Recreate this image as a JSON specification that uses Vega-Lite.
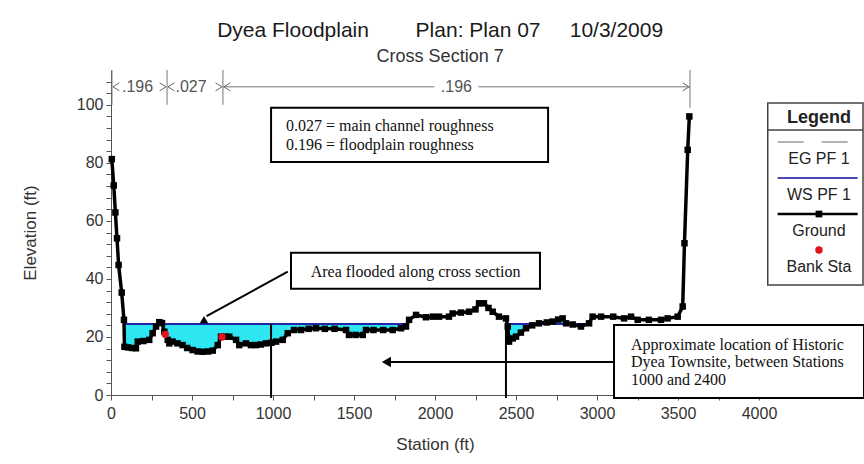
{
  "$schema": "https://vega.github.io/schema/vega-lite/v6.json",
  "autosize": {"type": "pad"},
  "padding": {"left": 21, "top": 19, "right": 1, "bottom": 1},
  "background": "white",
  "title": {
    "text": "Dyea Floodplain\u00a0\u00a0\u00a0\u00a0\u00a0\u00a0\u00a0\u00a0Plan: Plan 07\u00a0\u00a0\u00a0\u00a0\u00a010/3/2009",
    "subtitle": "Cross Section 7",
    "anchor": "middle",
    "dx": -3,
    "offset": 4,
    "subtitlePadding": 7,
    "font": "Liberation Sans",
    "fontSize": 21,
    "fontWeight": "normal",
    "color": "#1a1a1a",
    "subtitleFont": "Liberation Sans",
    "subtitleFontSize": 18,
    "subtitleColor": "#333333"
  },
  "config": {
    "view": {"stroke": null},
    "text": {"font": "Liberation Sans"}
  },
  "bounds": "flush",
  "spacing": 7,
  "datasets": {
    "ground": [
      {"station": 5, "elev": 81.3}, {"station": 17, "elev": 72.2}, {"station": 27, "elev": 62.9},
      {"station": 37, "elev": 54.0}, {"station": 47, "elev": 44.8}, {"station": 66, "elev": 35.3},
      {"station": 80, "elev": 25.9}, {"station": 83, "elev": 16.6}, {"station": 105, "elev": 16.4},
      {"station": 130, "elev": 16.2}, {"station": 154, "elev": 16.1}, {"station": 165, "elev": 18.4},
      {"station": 200, "elev": 18.6}, {"station": 236, "elev": 19.0}, {"station": 257, "elev": 21.3},
      {"station": 278, "elev": 23.6}, {"station": 298, "elev": 25.1}, {"station": 315, "elev": 24.8},
      {"station": 329, "elev": 21.8}, {"station": 350, "elev": 19.0}, {"station": 360, "elev": 17.8},
      {"station": 380, "elev": 18.4}, {"station": 410, "elev": 17.8}, {"station": 442, "elev": 17.2},
      {"station": 470, "elev": 16.2}, {"station": 504, "elev": 15.5}, {"station": 535, "elev": 15.0},
      {"station": 566, "elev": 14.9}, {"station": 600, "elev": 15.0}, {"station": 628, "elev": 15.3},
      {"station": 659, "elev": 17.2}, {"station": 679, "elev": 20.1}, {"station": 705, "elev": 20.1},
      {"station": 730, "elev": 20.1}, {"station": 772, "elev": 19.0}, {"station": 792, "elev": 17.2},
      {"station": 833, "elev": 17.8}, {"station": 864, "elev": 17.2}, {"station": 895, "elev": 17.2},
      {"station": 925, "elev": 17.4}, {"station": 957, "elev": 17.8}, {"station": 990, "elev": 18.0},
      {"station": 1019, "elev": 18.4}, {"station": 1060, "elev": 19.0}, {"station": 1091, "elev": 21.3},
      {"station": 1130, "elev": 22.4}, {"station": 1173, "elev": 22.4}, {"station": 1220, "elev": 22.8},
      {"station": 1265, "elev": 23.0}, {"station": 1320, "elev": 22.8}, {"station": 1380, "elev": 22.8},
      {"station": 1451, "elev": 22.4}, {"station": 1469, "elev": 20.7}, {"station": 1510, "elev": 20.7},
      {"station": 1554, "elev": 20.7}, {"station": 1574, "elev": 22.4}, {"station": 1620, "elev": 22.4},
      {"station": 1680, "elev": 22.4}, {"station": 1739, "elev": 22.4}, {"station": 1790, "elev": 23.0},
      {"station": 1821, "elev": 23.6}, {"station": 1840, "elev": 25.9}, {"station": 1883, "elev": 27.6},
      {"station": 1944, "elev": 26.8}, {"station": 1986, "elev": 27.0}, {"station": 2025, "elev": 27.0},
      {"station": 2086, "elev": 27.0}, {"station": 2109, "elev": 28.1}, {"station": 2160, "elev": 28.4},
      {"station": 2210, "elev": 28.7}, {"station": 2250, "elev": 29.5}, {"station": 2272, "elev": 31.6},
      {"station": 2302, "elev": 31.6}, {"station": 2330, "elev": 30.0}, {"station": 2356, "elev": 28.7},
      {"station": 2395, "elev": 27.0}, {"station": 2438, "elev": 26.4}, {"station": 2449, "elev": 23.6},
      {"station": 2457, "elev": 18.4}, {"station": 2480, "elev": 19.5}, {"station": 2500, "elev": 20.1},
      {"station": 2530, "elev": 21.5}, {"station": 2562, "elev": 23.0}, {"station": 2600, "elev": 24.0},
      {"station": 2642, "elev": 24.7}, {"station": 2690, "elev": 25.0}, {"station": 2726, "elev": 25.3},
      {"station": 2760, "elev": 26.0}, {"station": 2788, "elev": 26.4}, {"station": 2809, "elev": 24.7},
      {"station": 2850, "elev": 24.3}, {"station": 2901, "elev": 23.6}, {"station": 2951, "elev": 24.7},
      {"station": 2973, "elev": 27.0}, {"station": 3025, "elev": 27.0}, {"station": 3100, "elev": 27.0},
      {"station": 3167, "elev": 26.4}, {"station": 3210, "elev": 27.0}, {"station": 3251, "elev": 25.9},
      {"station": 3320, "elev": 25.9}, {"station": 3395, "elev": 25.9}, {"station": 3436, "elev": 26.4},
      {"station": 3498, "elev": 27.0}, {"station": 3529, "elev": 30.5}, {"station": 3540, "elev": 52.3},
      {"station": 3560, "elev": 84.5}, {"station": 3570, "elev": 96.0}
    ],
    "bank": [{"station": 335, "elev": 20.9}, {"station": 685, "elev": 20.0}],
    "ws": [
      {"seg": "a", "station": 80, "elev": 24.5}, {"seg": "a", "station": 1830, "elev": 24.5},
      {"seg": "b", "station": 2445, "elev": 24.5}, {"seg": "b", "station": 2960, "elev": 24.5}
    ],
    "vlines": [
      {"station": 988, "elev": 24.5, "elev2": -1},
      {"station": 2438, "elev": 24.5, "elev2": -1}
    ],
    "dividers": [
      {"station": 6, "elev": 100, "elev2": 112}, {"station": 346, "elev": 100, "elev2": 112},
      {"station": 691, "elev": 100, "elev2": 112}, {"station": 3574, "elev": 99, "elev2": 112}
    ],
    "nlines": [
      {"station": 691, "station2": 1996, "elev": 106.2},
      {"station": 2268, "station2": 3574, "elev": 106.2}
    ],
    "chevL": [{"station": 12, "elev": 106.2}, {"station": 352, "elev": 106.2}, {"station": 697, "elev": 106.2}],
    "chevR": [{"station": 340, "elev": 106.2}, {"station": 685, "elev": 106.2}, {"station": 3568, "elev": 106.2}],
    "nvals": [
      {"label": ".196", "station": 164, "elev": 106.2},
      {"label": ".027", "station": 494, "elev": 106.2},
      {"label": ".196", "station": 2132, "elev": 106.2}
    ],
    "arrows": [
      {"station": 1091, "elev": 42.5, "station2": 590, "elev2": 27.2},
      {"station": 1690, "elev": 11.4, "station2": 3105, "elev2": 11.4}
    ],
    "headUp": [{"station": 574, "elev": 26.0}],
    "headLeft": [{"station": 1700, "elev": 11.4}],
    "boxes": [
      {"station": 988, "station2": 2698, "elev": 99.0, "elev2": 80.3},
      {"station": 1111, "station2": 2648, "elev": 49.0, "elev2": 36.6},
      {"station": 3105, "station2": 4648, "elev": 24.1, "elev2": -1.0}
    ],
    "notesLeft": [
      {"text": "0.027 = main channel roughness", "station": 1080, "elev": 92.8},
      {"text": "0.196 = floodplain roughness", "station": 1080, "elev": 86.2},
      {"text": "Approximate location of Historic", "station": 3210, "elev": 17.2},
      {"text": "Dyea Townsite, between Stations", "station": 3210, "elev": 11.4},
      {"text": "1000 and 2400", "station": 3210, "elev": 5.2}
    ],
    "notesCenter": [
      {"text": "Area flooded along cross section", "station": 1880, "elev": 42.4}
    ],
    "legend": [
      {"item": "EG PF 1", "k": 1}, {"item": "WS PF 1", "k": 2},
      {"item": "Ground", "k": 3}, {"item": "Bank Sta", "k": 4}
    ]
  },
  "hconcat": [
    {
      "width": 648,
      "height": 325,
      "encoding": {
        "x": {
          "field": "station", "type": "quantitative",
          "scale": {"domain": [0, 4000], "nice": false, "zero": false},
          "axis": {
            "title": "Station (ft)",
            "values": [0, 250, 500, 750, 1000, 1250, 1500, 1750, 2000, 2250, 2500, 2750, 3000, 3250, 3500, 3750, 4000],
            "labelExpr": "datum.value % 500 === 0 ? datum.label : ''",
            "format": "d",
            "grid": false, "tickSize": 5, "labelPadding": 5,
            "labelFont": "Liberation Sans", "labelFontSize": 16, "labelColor": "#333333",
            "labelFlush": false, "labelOverlap": false,
            "titleFont": "Liberation Sans", "titleFontSize": 17, "titleFontWeight": "normal",
            "titleColor": "#333333", "titlePadding": 15,
            "domainColor": "#555555", "tickColor": "#555555"
          }
        },
        "y": {
          "field": "elev", "type": "quantitative",
          "scale": {"domain": [0, 112], "nice": false, "zero": false},
          "axis": {
            "title": "Elevation (ft)",
            "values": [0, 4, 8, 12, 16, 20, 24, 28, 32, 36, 40, 44, 48, 52, 56, 60, 64, 68, 72, 76, 80, 84, 88, 92, 96, 100, 104, 108],
            "labelExpr": "datum.value % 20 === 0 ? datum.label : ''",
            "format": "d",
            "grid": false, "tickSize": 5, "labelPadding": 3,
            "labelFont": "Liberation Sans", "labelFontSize": 16, "labelColor": "#333333",
            "labelFlush": false, "labelOverlap": false,
            "titleFont": "Liberation Sans", "titleFontSize": 17, "titleFontWeight": "normal",
            "titleColor": "#333333", "titlePadding": 37,
            "domainColor": "#555555", "tickColor": "#555555"
          }
        }
      },
      "layer": [
        {"data": {"name": "ground"}, "transform": [{"filter": {"field": "station", "range": [83, 1821]}}],
         "mark": {"type": "area", "color": "#2ee6f2", "opacity": 1}, "encoding": {"y2": {"datum": 24.5}}},
        {"data": {"name": "ground"}, "transform": [{"filter": {"field": "station", "range": [2449, 2951]}}],
         "mark": {"type": "area", "color": "#2ee6f2", "opacity": 1}, "encoding": {"y2": {"datum": 24.5}}},
        {"data": {"name": "ws"}, "mark": {"type": "line", "color": "#2525a8", "strokeWidth": 2},
         "encoding": {"detail": {"field": "seg"}}},
        {"data": {"name": "vlines"}, "mark": {"type": "rule", "color": "#000000", "strokeWidth": 2},
         "encoding": {"y2": {"field": "elev2"}}},
        {"data": {"name": "ground"}, "mark": {"type": "line", "color": "#000000", "strokeWidth": 3.5}},
        {"data": {"name": "ground"}, "mark": {"type": "point", "shape": "square", "filled": true, "color": "#000000", "size": 42, "opacity": 1}},
        {"data": {"name": "bank"}, "mark": {"type": "point", "shape": "circle", "filled": true, "color": "#e3121b", "size": 55, "opacity": 1}},
        {"data": {"name": "dividers"}, "mark": {"type": "rule", "color": "#777777", "strokeWidth": 1},
         "encoding": {"y2": {"field": "elev2"}}},
        {"data": {"name": "nlines"}, "mark": {"type": "rule", "color": "#777777", "strokeWidth": 1},
         "encoding": {"x2": {"field": "station2"}}},
        {"data": {"name": "chevL"}, "mark": {"type": "point", "shape": "M1.6,-1L0,0L1.6,1", "filled": false, "stroke": "#666666", "strokeWidth": 1, "size": 64, "opacity": 1}},
        {"data": {"name": "chevR"}, "mark": {"type": "point", "shape": "M-1.6,-1L0,0L-1.6,1", "filled": false, "stroke": "#666666", "strokeWidth": 1, "size": 64, "opacity": 1}},
        {"data": {"name": "nvals"}, "mark": {"type": "text", "font": "Liberation Sans", "fontSize": 16, "color": "#555555", "align": "center", "baseline": "middle"},
         "encoding": {"text": {"field": "label"}}},
        {"data": {"name": "arrows"}, "mark": {"type": "rule", "color": "#000000", "strokeWidth": 2},
         "encoding": {"x2": {"field": "station2"}, "y2": {"field": "elev2"}}},
        {"data": {"name": "headUp"}, "mark": {"type": "point", "shape": "triangle-up", "filled": true, "color": "#000000", "size": 70, "opacity": 1}},
        {"data": {"name": "headLeft"}, "mark": {"type": "point", "shape": "triangle-left", "filled": true, "color": "#000000", "size": 110, "opacity": 1}},
        {"data": {"name": "boxes"}, "mark": {"type": "rect", "fill": "#ffffff", "stroke": "#000000", "strokeWidth": 2},
         "encoding": {"x2": {"field": "station2"}, "y2": {"field": "elev2"}}},
        {"data": {"name": "notesLeft"}, "mark": {"type": "text", "font": "Liberation Serif", "fontSize": 16, "color": "#111111", "align": "left", "baseline": "middle"},
         "encoding": {"text": {"field": "text"}}},
        {"data": {"name": "notesCenter"}, "mark": {"type": "text", "font": "Liberation Serif", "fontSize": 16, "color": "#111111", "align": "center", "baseline": "middle"},
         "encoding": {"text": {"field": "text"}}}
      ]
    },
    {
      "width": 97,
      "height": 325,
      "layer": [
        {"data": {"values": [{}]}, "mark": {"type": "rect", "fill": "#ffffff", "stroke": "#444444", "strokeWidth": 1.5},
         "encoding": {
           "x": {"datum": 0.018, "type": "quantitative", "scale": {"domain": [0, 1], "nice": false, "zero": false}, "axis": null},
           "x2": {"datum": 1},
           "y": {"datum": -0.08, "type": "quantitative", "scale": {"domain": [-1, 8.0278], "reverse": true, "nice": false, "zero": false}, "axis": null},
           "y2": {"datum": 4.97}
         }},
        {"data": {"values": [{}]}, "mark": {"type": "rule", "stroke": "#444444", "strokeWidth": 1.5},
         "encoding": {
           "x": {"datum": 0.018, "type": "quantitative", "scale": {"domain": [0, 1], "nice": false, "zero": false}, "axis": null},
           "x2": {"datum": 1},
           "y": {"datum": 0.667, "type": "quantitative", "scale": {"domain": [-1, 8.0278], "reverse": true, "nice": false, "zero": false}, "axis": null}
         }},
        {"data": {"values": [{}]}, "mark": {"type": "text", "text": "Legend", "font": "Liberation Sans", "fontSize": 18, "fontWeight": "bold", "color": "#222222", "align": "center", "baseline": "middle"},
         "encoding": {
           "x": {"datum": 0.546, "type": "quantitative", "scale": {"domain": [0, 1], "nice": false, "zero": false}, "axis": null},
           "y": {"datum": 0.333, "type": "quantitative", "scale": {"domain": [-1, 8.0278], "reverse": true, "nice": false, "zero": false}, "axis": null}
         }},
        {"data": {"name": "legend"}, "transform": [{"filter": "datum.item === 'EG PF 1'"}],
         "mark": {"type": "rule", "stroke": "#9a9a9a", "strokeWidth": 1.5, "strokeDash": [26, 18]},
         "encoding": {
           "x": {"datum": 0.12, "type": "quantitative", "scale": {"domain": [0, 1], "nice": false, "zero": false}, "axis": null},
           "x2": {"datum": 0.945},
           "y": {"field": "k", "type": "quantitative", "scale": {"domain": [-1, 8.0278], "reverse": true, "nice": false, "zero": false}, "axis": null}
         }},
        {"data": {"name": "legend"}, "transform": [{"filter": "datum.item === 'WS PF 1'"}],
         "mark": {"type": "rule", "stroke": "#4a4ab5", "strokeWidth": 2},
         "encoding": {
           "x": {"datum": 0.12, "type": "quantitative", "scale": {"domain": [0, 1], "nice": false, "zero": false}, "axis": null},
           "x2": {"datum": 0.945},
           "y": {"field": "k", "type": "quantitative", "scale": {"domain": [-1, 8.0278], "reverse": true, "nice": false, "zero": false}, "axis": null}
         }},
        {"data": {"name": "legend"}, "transform": [{"filter": "datum.item === 'Ground'"}],
         "mark": {"type": "rule", "stroke": "#000000", "strokeWidth": 2.5},
         "encoding": {
           "x": {"datum": 0.12, "type": "quantitative", "scale": {"domain": [0, 1], "nice": false, "zero": false}, "axis": null},
           "x2": {"datum": 0.945},
           "y": {"field": "k", "type": "quantitative", "scale": {"domain": [-1, 8.0278], "reverse": true, "nice": false, "zero": false}, "axis": null}
         }},
        {"data": {"name": "legend"}, "transform": [{"filter": "datum.item === 'Ground'"}],
         "mark": {"type": "point", "shape": "square", "filled": true, "color": "#000000", "size": 45, "opacity": 1},
         "encoding": {
           "x": {"datum": 0.546, "type": "quantitative", "scale": {"domain": [0, 1], "nice": false, "zero": false}, "axis": null},
           "y": {"field": "k", "type": "quantitative", "scale": {"domain": [-1, 8.0278], "reverse": true, "nice": false, "zero": false}, "axis": null}
         }},
        {"data": {"name": "legend"}, "transform": [{"filter": "datum.item === 'Bank Sta'"}],
         "mark": {"type": "point", "shape": "circle", "filled": true, "color": "#e3121b", "size": 55, "opacity": 1},
         "encoding": {
           "x": {"datum": 0.546, "type": "quantitative", "scale": {"domain": [0, 1], "nice": false, "zero": false}, "axis": null},
           "y": {"field": "k", "type": "quantitative", "scale": {"domain": [-1, 8.0278], "reverse": true, "nice": false, "zero": false}, "axis": null}
         }},
        {"data": {"name": "legend"},
         "mark": {"type": "text", "font": "Liberation Sans", "fontSize": 16, "color": "#222222", "align": "center", "baseline": "middle", "dy": 17},
         "encoding": {
           "x": {"datum": 0.546, "type": "quantitative", "scale": {"domain": [0, 1], "nice": false, "zero": false}, "axis": null},
           "y": {"field": "k", "type": "quantitative", "scale": {"domain": [-1, 8.0278], "reverse": true, "nice": false, "zero": false}, "axis": null},
           "text": {"field": "item"}
         }}
      ]
    }
  ]
}
